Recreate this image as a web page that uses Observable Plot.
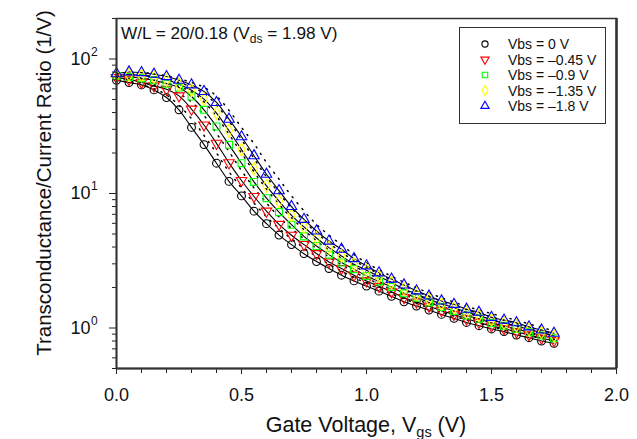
<!DOCTYPE html>
<html><head><meta charset="utf-8">
<script src="https://cdn.jsdelivr.net/npm/d3@7"></script>
<script src="https://cdn.jsdelivr.net/npm/@observablehq/plot@0.6"></script>
<style>
html,body{margin:0;padding:0;background:#fff;}
#wrap{position:relative;width:637px;height:439px;overflow:hidden;font-family:"Liberation Sans",Arial,sans-serif;}
#wrap svg{position:absolute;left:0;top:0;}
#box{position:absolute;left:-10px;top:9px;width:25px;height:72px;border:1px solid #222;}
</style></head><body><div id="wrap"><div id="box"></div></div>
<script>
// Gate voltage grid of measured points (V)
const vgs = [0,0.05,0.1,0.15,0.2,0.25,0.3,0.35,0.4,0.45,0.5,0.55,0.6,0.65,0.7,0.75,0.8,0.85,0.9,0.95,1.0,1.05,1.1,1.15,1.2,1.25,1.3,1.35,1.4,1.45,1.5,1.55,1.6,1.65,1.7,1.75];
// measured gm/Id (1/V)
const vbs0   = [69.5,66.8,64.2,58.9,51.7,41.9,31.0,23.1,16.8,12.3,9.6,7.39,5.97,4.91,4.17,3.57,3.12,2.77,2.47,2.24,2.05,1.88,1.72,1.566,1.455,1.36,1.262,1.18,1.10,1.04,0.984,0.94,0.887,0.847,0.80,0.77];
const vbs045 = [72.7,70.7,66.8,63.1,59.6,53.2,42.4,32.3,23.6,16.9,12.5,9.5,7.39,5.89,4.89,4.17,3.57,3.10,2.77,2.47,2.24,2.04,1.86,1.68,1.56,1.45,1.345,1.26,1.17,1.10,1.035,0.99,0.935,0.89,0.84,0.805];
const vbs09  = [74.8,73.5,72,69.5,65.6,61.3,52.6,41.9,31.5,23,16.8,12.2,9.23,7.27,5.86,4.80,4.07,3.51,3.07,2.74,2.44,2.22,2.02,1.81,1.68,1.55,1.43,1.34,1.24,1.17,1.09,1.04,0.985,0.93,0.88,0.84];
const vbs135 = [76,76.5,75.5,73.5,70,65,58.6,50.3,39.6,29.3,21.2,15.3,11.4,8.77,6.87,5.64,4.67,3.96,3.43,2.98,2.69,2.42,2.18,1.95,1.79,1.64,1.51,1.42,1.31,1.24,1.15,1.09,1.04,0.975,0.925,0.875];
const vbs18  = [77.8,80.1,79.2,77,74,69.5,64.2,57.3,47.5,35.7,26.4,19.1,13.9,10.5,8.0,6.42,5.26,4.43,3.85,3.28,2.90,2.57,2.31,2.09,1.89,1.73,1.59,1.50,1.38,1.31,1.20,1.146,1.094,1.02,0.966,0.914];
// second model (dotted lines)
const dotVgs  = [0,0.1,0.2,0.3,0.35,0.4,0.45,0.5,0.55,0.6,0.65,0.7,0.8,0.9,1.0,1.2,1.4,1.6,1.75];
const dot0    = [69.5,64.5,54,36,27,20,14.5,11,8.5,6.7,5.5,4.6,3.4,2.65,2.15,1.52,1.15,0.92,0.80];
const dot045  = [72.7,67,61,48,38,28,20.5,14.8,11,8.5,6.7,5.5,3.9,2.95,2.35,1.63,1.22,0.97,0.835];
const dot09   = [74.8,72,66.5,57,48,37.5,27.5,20,14.5,10.8,8.3,6.6,4.45,3.3,2.58,1.76,1.30,1.03,0.875];
const dot135  = [76,75.5,71,62,55.5,45.5,34.5,25.2,18.2,13.3,10.1,7.8,5.1,3.65,2.82,1.87,1.37,1.08,0.91];
const dot18   = [78,79.3,75,67,61.5,53,41.5,31,23.5,17,12.8,9.6,5.9,4.15,3.05,1.99,1.45,1.14,0.95];

const seriesNames = ["Vbs = 0 V","Vbs = \u20130.45 V","Vbs = \u20130.9 V","Vbs = \u20131.35 V","Vbs = \u20131.8 V"];
const seriesColors = ["#000000","#ff0000","#00ff00","#ffff00","#0000ff"];
const measured = [vbs0, vbs045, vbs09, vbs135, vbs18];
const dotted = [dot0, dot045, dot09, dot135, dot18];

const xMajor = [0, 0.5, 1.0, 1.5, 2.0];
const xMinor = [0.1,0.2,0.3,0.4,0.6,0.7,0.8,0.9,1.1,1.2,1.3,1.4,1.6,1.7,1.8,1.9];
const yMajor = [1, 10, 100];
const yExp = ["0","1","2"];
const yMinor = [0.5,0.6,0.7,0.8,0.9,2,3,4,5,6,7,8,9,20,30,40,50,60,70,80,90,200];

const triangleDown = {
  draw(context, size) {
    const y = -Math.sqrt(size / (Math.sqrt(3) * 3));
    context.moveTo(0, -y * 2);
    context.lineTo(-Math.sqrt(3) * y, y);
    context.lineTo(Math.sqrt(3) * y, y);
    context.closePath();
  }
};
const symbols = ["circle", triangleDown, "square", "diamond", "triangle"];

const points = measured.flatMap((arr, s) => arr.map((v, i) => ({x: vgs[i], y: v, s})));
const dots = dotted.flatMap((arr, s) => arr.map((v, i) => ({x: dotVgs[i], y: v, s})));

const marks = [
  Plot.line(points, {x: "x", y: "y", z: "s", stroke: "#000", strokeWidth: 1.1, curve: "catmull-rom"}),
  Plot.line(dots, {x: "x", y: "y", z: "s", stroke: "#000", strokeWidth: 1.5, strokeDasharray: "1.2 6.5", curve: "catmull-rom"}),
];
for (let s = 0; s < 5; s++) {
  marks.push(Plot.dot(points.filter(d => d.s === s), {x: "x", y: "y", r: 3.9, symbol: symbols[s], stroke: seriesColors[s], strokeWidth: 1.1, fill: "none"}));
}
marks.push(
  Plot.axisX(xMinor, {tickSize: 5, tickFormat: () => "", label: null, stroke: "#222"}),
  Plot.axisX(xMajor, {tickSize: 6, tickPadding: 14, tickFormat: d => d.toFixed(1), label: null, stroke: "#222", fill: "#111"}),
  Plot.axisY(yMinor, {tickSize: 4, tickFormat: () => "", label: null, stroke: "#222"}),
  Plot.axisY(yMajor, {tickSize: 7, tickFormat: () => "", label: null, stroke: "#222"}),
  Plot.text(yMajor, {y: d => d, frameAnchor: "left", text: () => "10", dx: -26, textAnchor: "end", fontSize: 18, fill: "#111"}),
  Plot.text(yMajor, {y: d => d, frameAnchor: "left", text: (d, i) => yExp[i], dx: -25.5, dy: -7, textAnchor: "start", fontSize: 12, fill: "#111"}),
  Plot.frame({stroke: "#333", strokeWidth: 1.5}),
  Plot.ruleX([2], {stroke: "#333", strokeWidth: 2.5}),
  Plot.ruleY([0.5], {stroke: "#333", strokeWidth: 2}),
  Plot.ruleX([0], {stroke: "#333", strokeWidth: 1.8})
);

const chart = Plot.plot({
  width: 637, height: 439,
  marginLeft: 116, marginRight: 21, marginTop: 18, marginBottom: 71,
  style: {fontFamily: "'Liberation Sans', Arial, sans-serif", fontSize: "18px", background: "#fff", overflow: "visible"},
  x: {domain: [0, 2], axis: null, label: null},
  y: {type: "log", domain: [0.5, 200], axis: null, label: null},
  marks
});
document.getElementById("wrap").appendChild(chart);

const svg = d3.select(chart);
const ff = "'Liberation Sans', Arial, sans-serif";
// y label
svg.append("text").attr("transform", "translate(51,183) rotate(-90)")
  .attr("text-anchor", "middle").attr("font-size", 20.5).attr("font-family", ff).attr("fill", "#111")
  .text("Transconductance/Current Ratio (1/V)");
// x label
const xl = svg.append("text").attr("x", 366).attr("y", 432).attr("text-anchor", "middle")
  .attr("font-size", 21.5).attr("font-family", ff).attr("fill", "#111");
xl.append("tspan").text("Gate Voltage, V");
xl.append("tspan").attr("font-size", 14.5).attr("dy", 5).text("gs");
xl.append("tspan").attr("dy", -5).text(" (V)");
// annotation
const an = svg.append("text").attr("x", 121).attr("y", 38.5).attr("text-anchor", "start")
  .attr("font-size", 17.2).attr("font-family", ff).attr("fill", "#111");
an.append("tspan").text("W/L = 20/0.18 (V");
an.append("tspan").attr("font-size", 12).attr("dy", 4).text("ds");
an.append("tspan").attr("dy", -4).text(" = 1.98 V)");
// legend
const lg = svg.append("g");
lg.append("rect").attr("x", 459.5).attr("y", 27.5).attr("width", 146).attr("height", 96)
  .attr("fill", "#fff").attr("stroke", "#333").attr("stroke-width", 1);
const d3syms = [d3.symbolCircle, triangleDown, d3.symbolSquare, d3.symbolDiamond, d3.symbolTriangle];
const rowY = [44, 59.5, 75, 90.5, 106];
seriesNames.forEach((name, i) => {
  lg.append("path").attr("d", d3.symbol(d3syms[i], 30)())
    .attr("transform", `translate(485,${rowY[i]})`).attr("fill", "none")
    .attr("stroke", seriesColors[i]).attr("stroke-width", 1.1);
  lg.append("text").attr("x", 508).attr("y", rowY[i]).attr("dy", "0.36em").attr("text-anchor", "start")
    .attr("font-size", 14).attr("font-family", ff).attr("fill", "#111").text(name);
});
</script></body></html>
